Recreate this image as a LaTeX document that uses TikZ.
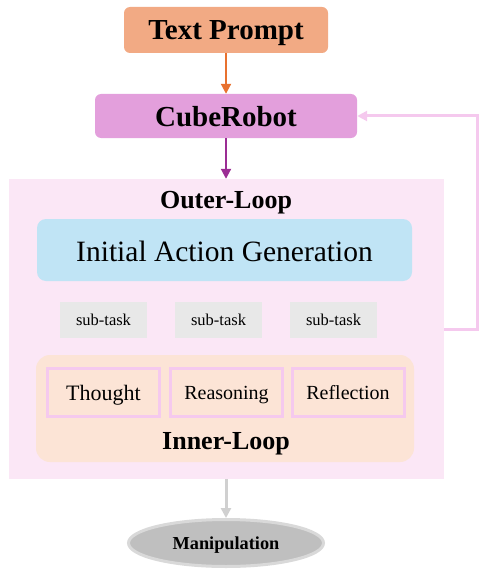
\documentclass[tikz,border=0pt]{standalone}
\usepackage{fontspec}
\setmainfont{Liberation Serif}
\usetikzlibrary{arrows.meta,shapes.geometric}
\definecolor{tpfill}{HTML}{F2AA84}
\definecolor{crfill}{HTML}{E39FDC}
\definecolor{outerfill}{HTML}{FBE7F6}
\definecolor{bluefill}{HTML}{C0E4F5}
\definecolor{subfill}{HTML}{E8E8E8}
\definecolor{innerfill}{HTML}{FCE4D6}
\definecolor{pinkline}{HTML}{F5C9EE}
\definecolor{orangearrow}{HTML}{E8712F}
\definecolor{purplearrow}{HTML}{9B2D94}
\definecolor{grayarrow}{HTML}{D0D0D0}
\definecolor{ellfill}{HTML}{BFBFBF}
\definecolor{ellline}{HTML}{D9D9D9}
\begin{document}
\begin{tikzpicture}[x=1pt,y=-1pt,
  every node/.style={text depth=0pt},
  topbox/.style={rounded corners=6pt,inner sep=0pt,font=\fontsize{29}{30}\selectfont\bfseries},
  subbox/.style={fill=subfill,minimum width=87pt,minimum height=36pt,inner sep=0pt,font=\fontsize{16.5}{18}\selectfont},
  stagebox/.style={draw=pinkline,line width=3pt,fill=innerfill,minimum width=112pt,minimum height=48pt,inner sep=0pt},
  looplabel/.style={font=\fontsize{26}{28}\selectfont\bfseries,inner sep=0pt},
  arr/.style={line width=2pt,-{Triangle[length=10pt,width=10pt]}}]
\useasboundingbox (0,0) rectangle (485,583);
\node[topbox,fill=tpfill,minimum width=204pt,minimum height=46pt] (tp) at (226,30) {Text Prompt};
\node[topbox,fill=crfill,minimum width=262pt,minimum height=44pt] (cr) at (226,116) {CubeRobot};
\node[fill=outerfill,minimum width=435pt,minimum height=300pt,inner sep=0pt] (outer) at (226.5,329) {};
\node[looplabel] (ol) at (226,200) {Outer-Loop};
\node[fill=bluefill,rounded corners=9pt,minimum width=375pt,minimum height=62pt,inner sep=0pt,font=\fontsize{29.5}{31}\selectfont] (iag) at (224.5,250) {\raisebox{-2pt}{Initial Action Generation}};
\node[subbox] (st1) at (103.5,320) {sub-task};
\node[subbox] (st2) at (218.5,320) {sub-task};
\node[subbox] (st3) at (333.5,320) {sub-task};
\node[fill=innerfill,rounded corners=14pt,minimum width=378pt,minimum height=107pt,inner sep=0pt] (inner) at (225,408.5) {};
\node[stagebox,font=\fontsize{22}{24}\selectfont] (th) at (103.5,392.5) {Thought};
\node[stagebox,font=\fontsize{20}{22}\selectfont] (re) at (226.5,392.5) {Reasoning};
\node[stagebox,font=\fontsize{20}{22}\selectfont] (rf) at (348,392) {Reflection};
\node[looplabel] (il) at (226,441) {Inner-Loop};
\node[ellipse,fill=ellfill,draw=ellline,line width=3pt,minimum width=195pt,minimum height=47pt,inner sep=0pt,font=\fontsize{18.3}{20}\selectfont\bfseries] (man) at (226,543) {Manipulation};
\draw[arr,orangearrow] (tp.south) -- (cr.north);
\draw[arr,purplearrow] (cr.south) -- (outer.north -| cr.south);
\draw[arr,grayarrow,line width=3pt] (outer.south -| man.north) -- (man.north);
\coordinate (fb) at (477,329);
\draw[arr,pinkline,line width=3pt] (outer.east) -- (fb) |- (cr.east);
\end{tikzpicture}
\end{document}
